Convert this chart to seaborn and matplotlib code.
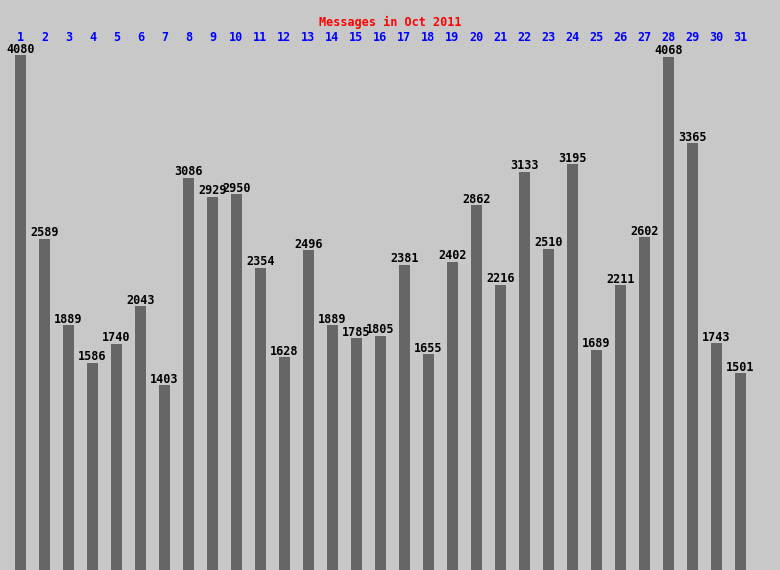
import matplotlib
matplotlib.use('Agg')
import matplotlib.pyplot as plt
import seaborn as sns
import pandas as pd

# messages per day, Oct 2011
days = [str(d) for d in range(1, 32)]
messages = [4080, 2589, 1889, 1586, 1740, 2043, 1403, 3086, 2929, 2950,
            2354, 1628, 2496, 1889, 1785, 1805, 2381, 1655, 2402, 2862,
            2216, 3133, 2510, 3195, 1689, 2211, 2602, 4068, 3365, 1743,
            1501]
title = 'Messages in Oct 2011'

df = pd.DataFrame({'day': days, 'messages': messages})

sns.set_style('white')
plt.rcParams['font.family'] = ['DejaVu Sans Mono', 'DejaVu Sans']

bg = '#c8c8c8'
fig = plt.figure(figsize=(7.8, 5.7), dpi=100, facecolor=bg)
ax = fig.add_axes([0, 0, 1, 1])
ax.set_facecolor(bg)

sns.barplot(x='day', y='messages', data=df, color='#666666', width=11/24,
            saturation=1, ax=ax)

# bars start a bit below zero, like the original image
base = -97
for p in ax.patches:
    p.set_y(base)
    p.set_height(p.get_height() - base)
    p.set_linewidth(0)

ax.set_xlim(-20.5/24, (780 - 20.5)/24)
ax.set_ylim(base, 4527)

for i, v in enumerate(messages):
    ax.annotate(str(v), (i, v), xytext=(0, 1.8), textcoords='offset points',
                ha='center', va='baseline', fontsize=8.5, fontweight='bold',
                color='black')

xt = ax.get_xaxis_transform()
for i, d in enumerate(days):
    ax.text(i, 1 - 37.5/570, d, transform=xt, ha='center', va='center',
            fontsize=8.5, fontweight='bold', color='#0000ff')

fig.text(0.5, 1 - 22/570, title, ha='center', va='center', fontsize=8.5,
         fontweight='bold', color='#ff0000')

ax.set_xlabel('')
ax.set_ylabel('')
ax.set_xticks([])
ax.set_yticks([])
for s in ax.spines.values():
    s.set_visible(False)

fig.savefig('out.png', dpi=100, facecolor=bg)
